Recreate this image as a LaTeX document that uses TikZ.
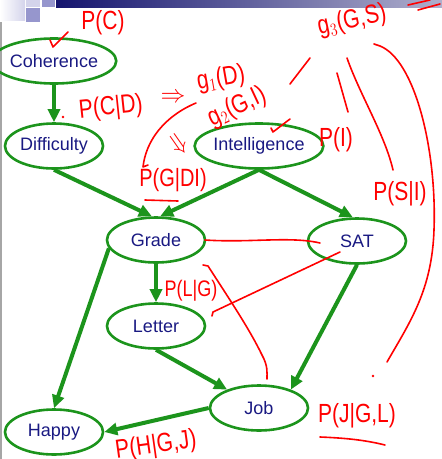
\documentclass[tikz,border=0pt]{standalone}
\usepackage{fontspec}
\usepackage{graphicx}
\setmainfont{Liberation Sans}
\usetikzlibrary{arrows.meta,shapes.geometric}

\definecolor{bnGreen}{RGB}{28,148,28}
\definecolor{bnText}{RGB}{25,25,130}
\definecolor{barDark}{RGB}{20,20,110}
\definecolor{barLight}{RGB}{175,175,205}
\definecolor{sqLight}{RGB}{212,212,235}
\definecolor{sqMid}{RGB}{150,150,205}

% taller letters for the handwritten notes
\newcommand\hand[1]{\scalebox{1}[1.25]{#1}}

\begin{document}
\begin{tikzpicture}[x=1pt, y=-1pt, font=\fontsize{18}{18}\selectfont,
    var/.style={ellipse, draw=bnGreen, line width=2.6pt, text=bnText,
                minimum width=98pt, minimum height=45pt, inner sep=0pt},
    link/.style={-{Triangle[length=13pt,width=12pt]}, line width=4pt, bnGreen},
    note/.style={text=red, inner sep=0pt, font=\fontsize{21}{21}\selectfont},
    ink/.style={red, line width=1.6pt, line cap=round, line join=round}]
    \useasboundingbox (0,0) rectangle (442,459);

    % slide header
    \shade[left color=barDark, right color=barLight] (56,0) rectangle (442,7);
    \shade[left color=white, right color=sqLight] (0,0) rectangle (25,20);
    \fill[sqLight] (26,0) rectangle (40,7);
    \fill[sqMid] (42,0) rectangle (55,7);
    \fill[sqMid] (26,8) rectangle (40,22);
    \fill[gray!70] (0,22) rectangle (1.5,459);

    % the network
    \node[var] (C) at (54,61) {Coherence};
    \node[var] (D) at (54,146) {Difficulty};
    \node[var] (I) at (259,146) {Intelligence};
    \node[var] (G) at (156,240) {Grade};
    \node[var] (S) at (357,241) {SAT};
    \node[var] (L) at (156,326) {Letter};
    \node[var] (J) at (259,408) {Job};
    \node[var] (H) at (54,432) {Happy};

    \draw[link] (C) -- (D);
    \draw[link] (D.south) -- (G.100);
    \draw[link] (I.south) -- (G.80);
    \draw[link] (I.south) -- (S.100);
    \draw[link] (G) -- (L);
    \draw[link] (G.190) -- (H.north);
    \draw[link] (L.south) -- (J.150);
    \draw[link] (S.south) -- (J.30);
    \draw[link] (J.west) -- (H.east);

    % handwritten notes
    \node[note] (pC) at (103,23) {\hand{P(C)}};
    \node[note, rotate=6] (pCD) at (111,108) {\hand{P(C|D)}};
    \node[note, font=\fontsize{26}{26}\selectfont] (imp) at (173,98) {$\Rightarrow$};
    \node[note, rotate=10] (gOne) at (221,79) {\hand{g$_1$(D)}};
    \node[note, rotate=25] (gTwo) at (237,107) {\hand{g$_2$(G,I)}};
    \node[note, rotate=12] (gThree) at (352,21) {\hand{g$_3$(G,S)}};
    \node[note] (pI) at (336,140) {\hand{P(I)}};
    \node[note, font=\fontsize{20}{20}\selectfont] (pGDI) at (173,180) {\hand{P(G|DI)}};
    \node[note] (pSI) at (400,194) {\hand{P(S|I)}};
    \node[note, font=\fontsize{18}{18}\selectfont] (pLG) at (191,291) {\hand{P(L|G)}};
    \node[note] (pJGL) at (357,416) {\hand{P(J|G,L)}};
    \node[note, rotate=8] (pHGJ) at (156,446) {\hand{P(H|G,J)}};
    \node[note, rotate=-55, font=\fontsize{24}{24}\selectfont] (dbl) at (177,145) {$\Rightarrow$};

    \draw[ink] (50,40) -- (53,47) -- (68,32);
    \fill[red] (63,117) circle (1.3);
    \draw[ink] (196,103) .. controls (165,116) and (146,140) .. (143,167) -- (148,165);
    \draw[ink] (290,84) -- (310,58);
    \draw[ink] (271,128) -- (273,132) -- (290,119);
    \draw[ink] (337,73) -- (348,112);
    \draw[ink] (347,58) .. controls (360,95) and (385,135) .. (393,170);
    \draw[ink] (374,44) -- (380,46) .. controls (415,60) and (437,150) .. (434,230)
        .. controls (432,290) and (410,322) .. (387,362);
    \fill[red] (373,376) circle (1.3);
    \draw[ink] (408,5) -- (430,0);
    \draw[ink] (418,10) -- (440,4);
    \draw[ink] (205,240) .. controls (250,243) and (290,236) .. (320,243);
    \draw[ink] (340,252) -- (213,312) -- (212,316);
    \draw[ink] (203,265) -- (208,266) .. controls (230,300) and (250,330) .. (262,355)
        .. controls (268,366) and (267,372) .. (267,379);
    \draw[ink] (145,200) -- (178,201);
    \draw[ink] (320,437) .. controls (345,438) and (365,440) .. (385,445);
\end{tikzpicture}
\end{document}
